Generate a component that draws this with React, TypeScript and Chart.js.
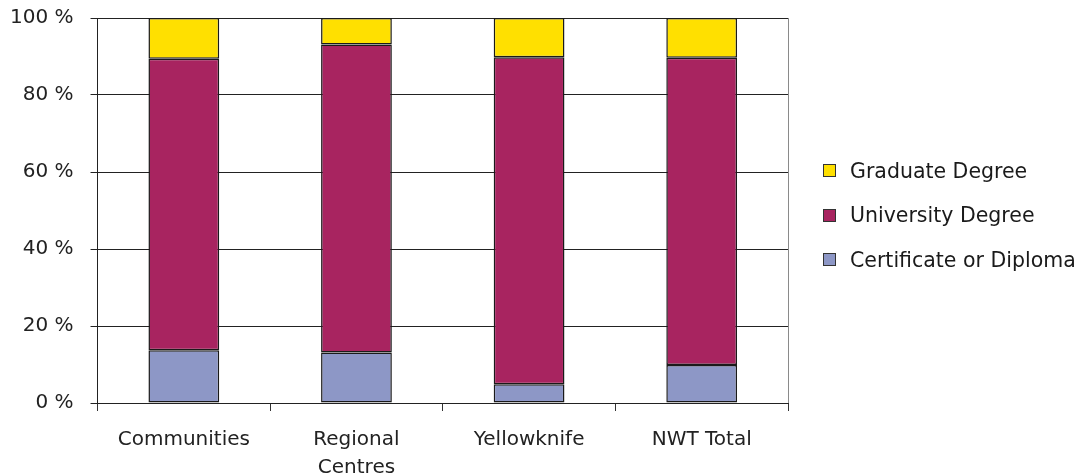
import React, { useEffect, useRef } from "react";
import { Chart, registerables } from "chart.js";

Chart.register(...registerables);

const categories: (string | string[])[] = ["Communities", ["Regional", "Centres"], "Yellowknife", "NWT Total"];
const certificateOrDiploma = [13.7, 13.1, 4.9, 9.9];
const universityDegree = [75.7, 80.0, 84.9, 79.8];
const graduateDegree = [10.6, 6.9, 10.2, 10.3];
const yTicks = [0, 20, 40, 60, 80, 100];

const seriesNames = ["Certificate or Diploma", "University Degree", "Graduate Degree"];
const seriesColors = ["#8D97C6", "#A82460", "#FFE000"];

const FONT = "'DejaVu Sans', sans-serif";

const rightBorder = {
  id: "rightBorder",
  afterDraw(chart: any) {
    const { ctx, chartArea } = chart;
    ctx.save();
    ctx.strokeStyle = "#8a8a8a";
    ctx.lineWidth = 1;
    ctx.beginPath();
    const x = Math.round(chartArea.right) + 0.5;
    ctx.moveTo(x, chartArea.top);
    ctx.lineTo(x, chartArea.bottom);
    ctx.stroke();
    ctx.restore();
  },
};

const CANVAS_H = 491;

export default function App() {
  const ref = useRef<HTMLCanvasElement>(null);
  useEffect(() => {
    if (!ref.current) return;
    const data = [certificateOrDiploma, universityDegree, graduateDegree];
    const chart = new Chart(ref.current, {
      type: "bar",
      data: {
        labels: categories,
        datasets: data.map((d, i) => ({
          label: seriesNames[i],
          data: d,
          backgroundColor: seriesColors[i],
          borderColor: "#1a1a1a",
          borderWidth: 1.5,
          borderSkipped: false,
          barPercentage: 0.41,
          categoryPercentage: 1,
        })),
      },
      options: {
        responsive: false,
        animation: false,
        layout: { padding: { left: -7, right: 291, top: -5, bottom: -17 } },
        plugins: { legend: { display: false }, tooltip: { enabled: false } },
        scales: {
          x: {
            stacked: true,
            grid: {
              offset: true,
              drawOnChartArea: false,
              drawTicks: true,
              tickLength: 8,
              color: "#333",
            },
            border: { display: true, color: "#222", width: 1 },
            ticks: {
              color: "#222",
              font: { family: FONT, size: 20, lineHeight: 1.4 },
              padding: 15,
              maxRotation: 0,
              autoSkip: false,
            },
          },
          y: {
            stacked: true,
            min: 0,
            max: 100,
            afterBuildTicks: (axis: any) => {
              axis.ticks = yTicks.map((v) => ({ value: v }));
            },
            grid: { color: "#222", lineWidth: 1, tickLength: 7 },
            border: { display: true, color: "#222", width: 1 },
            ticks: {
              color: "#222",
              font: { family: FONT, size: 20 },
              padding: 17,
              callback: (v: any) => `${v} %`,
            },
          },
        },
      },
      plugins: [rightBorder],
    });
    return () => chart.destroy();
  }, []);

  const legendItems = [2, 1, 0];
  return (
    <div style={{ position: "fixed", left: 0, top: 0, width: 1079, height: 476, background: "#fff", overflow: "hidden" }}>
      <canvas
        ref={ref}
        width={1079}
        height={CANVAS_H}
        style={{ position: "absolute", left: 0, top: -11, width: 1079, height: CANVAS_H, display: "block" }}
      />
      <div style={{ position: "absolute", left: 823, top: 157, fontFamily: FONT, fontSize: 20.5, color: "#1a1a1a" }}>
        {legendItems.map((i) => (
          <div key={i} style={{ display: "flex", alignItems: "center", height: 27, marginBottom: 17.5, whiteSpace: "nowrap" }}>
            <span
              style={{
                display: "inline-block",
                width: 11,
                height: 11,
                background: seriesColors[i],
                border: "1px solid #333",
                marginRight: 14,
              }}
            />
            <span>{seriesNames[i]}</span>
          </div>
        ))}
      </div>
    </div>
  );
}
